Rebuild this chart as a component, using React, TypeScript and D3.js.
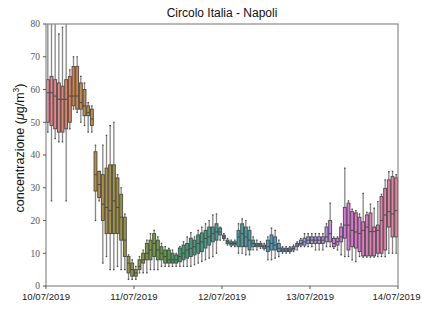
import React from "react";
import * as d3 from "d3";

const startDate = new Date(2019, 6, 10, 0, 0);
const endDate = new Date(2019, 6, 14, 0, 0);
const dayTicks = [
  new Date(2019, 6, 10), new Date(2019, 6, 11), new Date(2019, 6, 12),
  new Date(2019, 6, 13), new Date(2019, 6, 14),
];
const dayLabels = ["10/07/2019", "11/07/2019", "12/07/2019", "13/07/2019", "14/07/2019"];
const yTicks = [0, 10, 20, 30, 40, 50, 60, 70, 80];

// hourly box statistics (µg/m³)
const whiskerLow = [
  47, 26, 45, 44, 44, 26, 48, 54, 53, 50, 49, 47, 47, 20, 26, 7, 9, 5, 5, 6, 5, 5, 2, 2,
  2, 4, 4, 4, 5, 5, 5, 6, 6, 6, 6, 6, 6, 6, 6, 6, 6.5, 7, 7.5, 8, 8.5, 9, 10, 14,
  14, 12.5, 12, 12, 10, 10, 9.5, 9.5, 11, 11, 11.5, 11, 8, 8, 8.5, 9, 10, 10, 10, 10.5,
  11, 12, 12, 12, 12, 11, 11, 11, 12, 12, 11.5, 11, 9.5, 9, 9, 8, 7.4, 9, 8.8, 8.8, 8.8, 8.8, 9, 9, 9, 10, 10, 10,
];
const quart1 = [
  50, 49, 48, 47, 47, 48, 50, 55, 54, 54, 52, 52, 49, 29, 27, 20, 16, 16, 16, 16, 14, 9, 4, 3,
  3, 5, 7, 8, 8, 9, 8, 8, 7, 7, 7, 7, 7.4, 8, 8.5, 9, 9.5, 10, 10.5, 11.6, 12.5, 13.5, 14, 15.6,
  14.5, 13, 12.5, 12.5, 12, 12, 12, 11, 12, 12, 12, 11.5, 10.5, 11, 11, 10.5, 10.5, 10.5, 10.5, 11,
  12, 12.5, 12.5, 13, 13, 13, 13, 13, 13.5, 13.5, 12, 12.5, 13.5, 14.6, 11, 12, 11.6, 10.5, 9.2, 9.2, 9.2, 9.2, 10, 10, 11, 18, 15, 15,
];
const medians = [
  59, 59, 58, 57, 57, 57, 58, 58, 58, 56, 55, 53, 51, 34, 31, 25, 24, 23, 26, 24, 21, 14, 7, 5,
  4, 6, 8, 10, 11, 13, 11, 10, 9, 8, 8, 8, 9, 10, 11, 11.5, 12, 13, 13.5, 14.5, 15, 16, 16.5, 16.5,
  15, 13.5, 13, 13, 15, 16, 15, 14, 13, 12.5, 12.5, 12, 12, 13, 12.5, 11.5, 11, 11, 11, 11.5,
  12.5, 13, 13.5, 14, 14, 14, 14, 14, 15, 16, 13, 13.5, 15, 18.6, 18.6, 17, 16.5, 16, 17, 18, 16.6, 16.6, 17, 20, 21.7, 22.7, 22, 23,
];
const quart3 = [
  63, 64, 63, 62, 61, 63, 64, 67, 67, 62, 60, 55, 54, 41, 35, 34, 36, 37, 37, 33, 28, 21, 9, 7,
  5, 8, 10, 13, 14, 16, 14, 12, 11, 11, 10, 9.5, 11.6, 12.5, 13, 14.6, 14, 15.6, 16.2, 17, 18, 18, 19, 17.7,
  15.5, 14, 13.5, 13.5, 17, 19, 18, 17, 14, 13, 13, 12.5, 14, 15.6, 15, 13, 11.6, 11.5, 11.6, 12,
  13, 14, 14.6, 15, 15, 15, 15, 15, 18, 20, 14.5, 14.6, 18, 24, 25.3, 22.7, 22.3, 21, 19.6, 21.7, 22.3, 18, 18.6, 27.3, 29.8, 32.4, 33.4, 33,
];
const whiskerHigh = [
  85, 85, 85, 77, 79, 85, 66, 70, 70, 64, 62, 56, 55, 43, 35, 43, 46, 49, 50, 34, 30, 22, 9.5, 8,
  6, 9, 11, 14, 16, 17, 15, 13, 12, 11.5, 11, 10, 12, 13.5, 15, 16.3, 15, 17, 18, 19, 20, 21.7, 22, 18,
  16, 14.5, 14, 14, 19, 20.5, 20, 18, 15, 14, 13.5, 13, 15, 17.7, 17, 14, 12, 12, 12, 12.5,
  13.5, 14.5, 16, 16, 16, 16, 16, 16, 19, 25.3, 15, 15, 19, 36, 26, 23.5, 23, 22, 28.3, 22.5, 25, 23.8, 25.8, 28, 32.4, 34.9, 35, 34,
];

const W = 422;
const H = 312;
const L = 46, R = 398, T = 24, B = 286;

// HSLuv (husl) conversion, as used by seaborn's husl palette
const M = [
  [3.240969941904521, -1.537383177570093, -0.498610760293],
  [-0.96924363628087, 1.87596750150772, 0.041555057407175],
  [0.055630079696993, -0.20397695888897, 1.056971514242878],
];
const refU = 0.19783000664283, refV = 0.46831999493879;
const kappa = 903.2962962, epsilon = 0.0088564516;

function maxChroma(Lv: number, Hv: number) {
  const sub1 = Math.pow(Lv + 16, 3) / 1560896;
  const sub2 = sub1 > epsilon ? sub1 : Lv / kappa;
  const hrad = (Hv / 360) * 2 * Math.PI;
  let min = Infinity;
  for (let c = 0; c < 3; c++) {
    const [m1, m2, m3] = M[c];
    for (let t = 0; t < 2; t++) {
      const top1 = (284517 * m1 - 94839 * m3) * sub2;
      const top2 = (838422 * m3 + 769860 * m2 + 731718 * m1) * Lv * sub2 - 769860 * t * Lv;
      const bottom = (632260 * m3 - 126452 * m2) * sub2 + 126452 * t;
      const slope = top1 / bottom, intercept = top2 / bottom;
      const len = intercept / (Math.sin(hrad) - slope * Math.cos(hrad));
      if (len >= 0) min = Math.min(min, len);
    }
  }
  return min;
}
function huslToRgb(h: number, s: number, l: number) {
  const C = (maxChroma(l, h) / 100) * s;
  const hrad = (h / 360) * 2 * Math.PI;
  const U = Math.cos(hrad) * C, V = Math.sin(hrad) * C;
  const varU = U / (13 * l) + refU;
  const varV = V / (13 * l) + refV;
  const Y = l <= 8 ? l / kappa : Math.pow((l + 16) / 116, 3);
  const X = 0 - (9 * Y * varU) / ((varU - 4) * varV - varU * varV);
  const Z = (9 * Y - 15 * varV * Y - varV * X) / (3 * varV);
  const lin = M.map((r) => r[0] * X + r[1] * Y + r[2] * Z);
  const rgb = lin.map((c) => (c <= 0.0031308 ? 12.92 * c : 1.055 * Math.pow(c, 1 / 2.4) - 0.055));
  return rgb.map((c) => Math.max(0, Math.min(1, c)));
}
function paletteColor(i: number, n: number) {
  const hue = ((i / n + 0.01) % 1) * 359;
  const [r, g, b] = huslToRgb(hue, 90, 65);
  const c = d3.hsl(d3.rgb(r * 255, g * 255, b * 255));
  c.s *= 0.75;
  return c.formatHex();
}

export default function App() {
  const x = d3.scaleTime().domain([startDate, endDate]).range([L, R]);
  const y = d3.scaleLinear().domain([0, 80]).range([B, T]);
  const n = medians.length;
  const step = x(d3.timeHour.offset(startDate, 1)) - x(startDate);
  const bw = step * 0.8;
  const cw = bw * 0.5;
  const edge = "#474747";

  return (
    <svg width={W} height={H} style={{ position: "absolute", left: 0, top: 0, background: "#fff" }}>
      <defs>
        <clipPath id="plotclip">
          <rect x={L} y={T} width={R - L} height={B - T} />
        </clipPath>
      </defs>
      <rect x={0} y={0} width={W} height={H} fill="#fff" />
      <g clipPath="url(#plotclip)">
        {medians.map((m, i) => {
          const t = new Date(startDate.getTime() + (i + 0.5) * 3600 * 1000);
          const cx = x(t);
          const col = paletteColor(i, n);
          return (
            <g key={i}>
              <line x1={cx} x2={cx} y1={y(whiskerHigh[i])} y2={y(quart3[i])} stroke="#858585" strokeWidth={1.3} />
              <line x1={cx} x2={cx} y1={y(quart1[i])} y2={y(whiskerLow[i])} stroke="#858585" strokeWidth={1.3} />
              <line x1={cx - cw / 2} x2={cx + cw / 2} y1={y(whiskerHigh[i])} y2={y(whiskerHigh[i])} stroke={edge} strokeWidth={1.2} />
              <line x1={cx - cw / 2} x2={cx + cw / 2} y1={y(whiskerLow[i])} y2={y(whiskerLow[i])} stroke={edge} strokeWidth={1.2} />
              <rect x={cx - bw / 2} y={y(quart3[i])} width={bw} height={Math.max(0.5, y(quart1[i]) - y(quart3[i]))} fill={col} stroke={edge} strokeWidth={0.9} />
              <line x1={cx - bw / 2} x2={cx + bw / 2} y1={y(m)} y2={y(m)} stroke={edge} strokeWidth={1} />
            </g>
          );
        })}
      </g>
      {/* frame */}
      <rect x={L} y={T} width={R - L} height={B - T} fill="none" stroke="#8a8a8a" strokeWidth={1.2} />
      {/* y ticks */}
      {yTicks.map((v) => (
        <g key={v}>
          <line x1={L - 3} x2={L} y1={y(v)} y2={y(v)} stroke="#555" strokeWidth={1} />
          <text x={L - 6} y={y(v) + 3.3} textAnchor="end" fontFamily="'Liberation Serif', serif" fontSize={9.5} fill="#555">
            {v}
          </text>
        </g>
      ))}
      {/* x ticks */}
      {dayTicks.map((d, i) => (
        <g key={i}>
          <line x1={x(d)} x2={x(d)} y1={B} y2={B + 3} stroke="#555" strokeWidth={1} />
          <text x={x(d) - (i === dayTicks.length - 1 ? 1.5 : 0)} y={B + 14} textAnchor="middle" fontFamily="'Liberation Sans', Arial, sans-serif" fontSize={9.6} fill="#222">
            {dayLabels[i]}
          </text>
        </g>
      ))}
      <text x={(L + R) / 2} y={17} textAnchor="middle" fontFamily="'Liberation Sans', Arial, sans-serif" fontSize={12} fill="#111">
        Circolo Italia - Napoli
      </text>
      <text
        transform={`translate(23.5, 148) rotate(-90)`}
        textAnchor="middle"
        fontFamily="'Liberation Sans', Arial, sans-serif"
        fontSize={12.5}
        fill="#111"
      >
        concentrazione (<tspan fontStyle="italic">μ</tspan>g/m<tspan fontSize={8.5} dy={-4.5}>3</tspan><tspan dy={4.5}>)</tspan>
      </text>
    </svg>
  );
}
